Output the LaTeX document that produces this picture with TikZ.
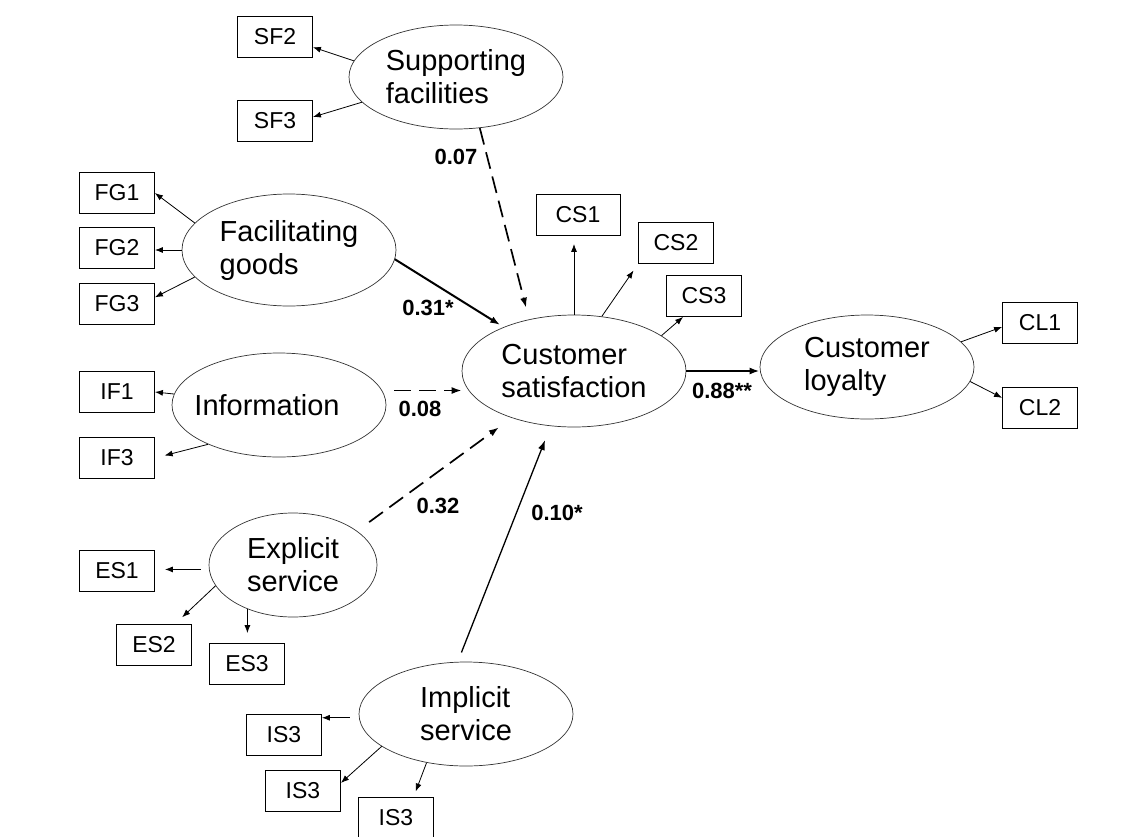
\documentclass[tikz,border=0pt]{standalone}
\usepackage{fontspec}
\setmainfont{Liberation Sans}
\usetikzlibrary{shapes.geometric, arrows.meta}

\begin{document}
\begin{tikzpicture}[x=1pt, y=-1pt,
        latent/.style={draw=black!80, line width=0.7pt, ellipse, inner sep=0pt,
            minimum width=214pt, minimum height=104pt, align=left,
            font=\fontsize{29}{33}\selectfont},
        indic/.style={draw, line width=0.8pt, inner sep=0pt,
            minimum width=75pt, minimum height=41pt,
            font=\fontsize{23}{27}\selectfont},
        coef/.style={inner sep=0pt, font=\fontsize{22}{26}\selectfont\bfseries},
        loading/.style={line width=0.8pt},
        effect/.style={-{Latex[length=10pt, width=7pt]}, line width=1.5pt},
        slash/.style={dash pattern=on 17pt off 8pt, line width=1.7pt},
        >={Latex[length=8pt, width=6pt]}]
    \useasboundingbox (0, 0) rectangle (1138, 836);
    \node[latent] (sf) at (456, 77) {Supporting\\facilities};
    \node[latent, minimum height=112pt] (fg) at (289, 250) {Facilitating\\goods};
    \node[latent, inner xsep=-12pt] (inf) at (279, 405) {Information\hspace*{24pt}};
    \node[latent, minimum width=168pt] (es) at (293, 565) {Explicit\\service};
    \node[latent] (is) at (466, 714) {Implicit\\service};
    \node[latent, minimum width=224pt, minimum height=112pt] (cs) at (574, 371) {Customer\\satisfaction};
    \node[latent] (cl) at (867, 367) {Customer\\loyalty};
    \node[indic] (sf2) at (275, 37) {SF2};
    \node[indic] (sf3) at (275, 121) {SF3};
    \node[indic] (fg1) at (117, 193) {FG1};
    \node[indic] (fg2) at (117, 248) {FG2};
    \node[indic] (fg3) at (117, 304) {FG3};
    \node[indic] (if1) at (117, 392) {IF1};
    \node[indic] (if3) at (117, 458) {IF3};
    \node[indic] (es1) at (117, 571) {ES1};
    \node[indic] (es2) at (154, 645) {ES2};
    \node[indic] (es3) at (247, 664) {ES3};
    \node[indic] (is3a) at (284, 735) {IS3};
    \node[indic] (is3b) at (303, 791) {IS3};
    \node[indic] (is3c) at (396, 818) {IS3};
    \node[indic, minimum width=84pt] (cs1) at (578, 215) {CS1};
    \node[indic] (cs2) at (676, 243) {CS2};
    \node[indic] (cs3) at (704, 296) {CS3};
    \node[indic] (cl1) at (1040, 323) {CL1};
    \node[indic] (cl2) at (1040, 408) {CL2};
    \node[coef] (c07) at (456, 157) {0.07};
    \node[coef] (c31) at (428, 308) {0.31*};
    \node[coef] (c08) at (420, 409) {0.08};
    \node[coef] (c88) at (722, 391) {0.88**};
    \node[coef] (c32) at (438, 506) {0.32};
    \node[coef] (c10) at (557, 513) {0.10*};
    \draw[loading]
    (sf.171) edge[->] (sf2.-15)
    (sf.195) edge[->] (sf3.6)
    (fg.164) edge[->] (fg1.east)
    (fg.west) edge[->] (fg.west -| fg2.east)
    (fg.196) edge[->] (fg3.10)
    (inf) edge[->] (if1.east)
    (inf.209) edge[->, shorten >=10pt] (if3.east)
    (es.183) edge[->, shorten <=8pt, shorten >=10pt] (es.183 -| es1.east)
    (es.195) edge[->, shorten >=10pt] (es2.45)
    (es.224) edge[->, shorten >=10pt] (es.224 |- es3.north)
    (is.182) edge[->, shorten <=9pt] (is.182 -| is3a.east)
    (is.201) edge[->] (is3b.12)
    (is.231) edge[->, shorten >=6pt] (is3c.50)
    (cs.north) edge[->, shorten >=8pt] (cs.north |- cs1.south)
    (cs.63) edge[->, shorten >=8pt] (cs2.south west)
    (cs.22) edge[->] (cs3.-135)
    (cl.15) edge[->] (cl1.186)
    (cl.-8) edge[->] (cl2.165);
    \draw[effect, slash, shorten >=12pt] (sf.-65) -- (cs.131);
    \draw[effect, line width=2pt, shorten >=4pt] (fg.-5) -- (cs);
    \draw[effect, slash, shorten <=12pt] (inf.8) -- (inf.8 -| cs.west);
    \draw[effect, slash, shorten <=15pt, shorten >=16pt] (es.28) -- (cs.217);
    \draw[effect, line width=1.3pt, shorten <=10pt, shorten >=15pt] (is.99) -- (cs.247);
    \draw[effect, line width=2.2pt] (cs.east) -- (cs.east -| cl.west);
\end{tikzpicture}
\end{document}
